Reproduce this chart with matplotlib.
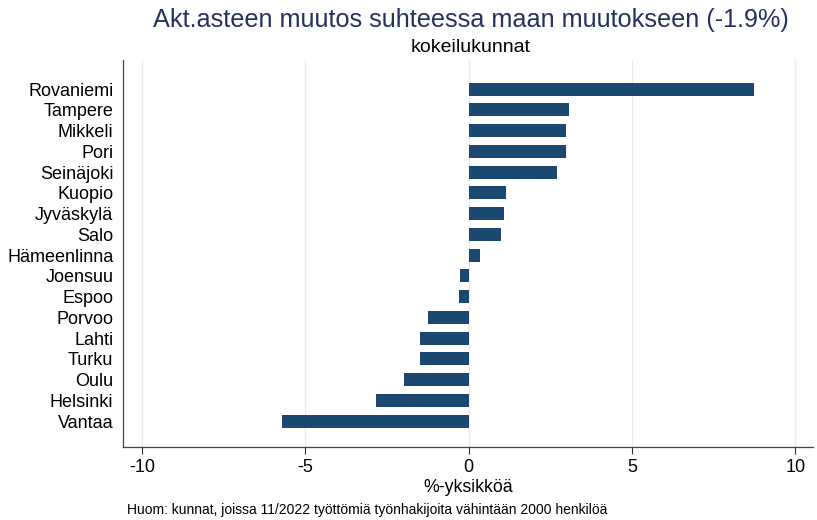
import matplotlib
matplotlib.use("Agg")
import matplotlib.pyplot as plt

plt.rcParams['font.family'] = ['Liberation Sans', 'DejaVu Sans']

cities = ["Rovaniemi", "Tampere", "Mikkeli", "Pori", "Seinäjoki", "Kuopio",
          "Jyväskylä", "Salo", "Hämeenlinna", "Joensuu", "Espoo", "Porvoo",
          "Lahti", "Turku", "Oulu", "Helsinki", "Vantaa"]
values = [8.72, 3.08, 2.99, 2.99, 2.71, 1.13, 1.07, 0.98, 0.34, -0.27, -0.30,
          -1.25, -1.49, -1.49, -1.98, -2.84, -5.73]
xticks = [-10, -5, 0, 5, 10]

fig = plt.figure(figsize=(8.17, 5.2), dpi=100)
ax = fig.add_axes([0.1506, 0.1404, 0.845, 0.7442])

pos = list(range(len(cities)))[::-1]
ax.barh(pos, values, height=0.63, color="#1b4870", zorder=3)

ax.set_xlim(-10.58, 10.55)
ax.set_ylim(-1.25, len(cities) + 0.4)
ax.set_xticks(xticks)
ax.set_xticklabels([str(t) for t in xticks], fontsize=13)
ax.set_yticks(pos)
ax.set_yticklabels(cities, fontsize=13)
ax.tick_params(axis="y", length=0, pad=7)
ax.tick_params(axis="x", length=5, width=0.8, color="#333333", pad=4)
ax.grid(axis="x", color="#e6edf2", linewidth=0.9, zorder=0)
for s in ["top", "right"]:
    ax.spines[s].set_visible(False)
for s in ["left", "bottom"]:
    ax.spines[s].set_color("#444444")
    ax.spines[s].set_linewidth(0.9)

ax.set_xlabel("%-yksikköä", fontsize=12.8, labelpad=2)
fig.text(0.5765, 0.962, "Akt.asteen muutos suhteessa maan muutokseen (-1.9%)",
         ha="center", va="center", fontsize=18.2, color="#24335e")
fig.text(0.5765, 0.908, "kokeilukunnat", ha="center", va="center", fontsize=14)
fig.text(0.155, 0.019, "Huom: kunnat, joissa 11/2022 työttömiä työnhakijoita vähintään 2000 henkilöä",
         ha="left", va="center", fontsize=10)

fig.savefig("out.png", dpi=100)
